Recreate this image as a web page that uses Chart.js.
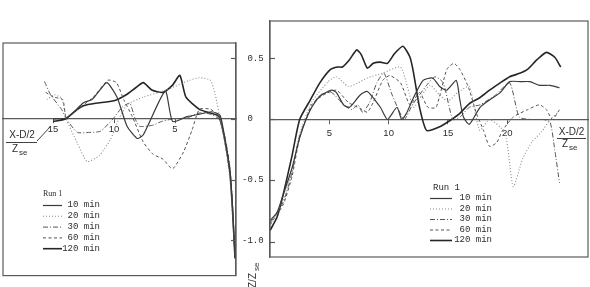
<!DOCTYPE html>
<html><head><meta charset="utf-8">
<script src="https://cdn.jsdelivr.net/npm/chart.js@4.4.1/dist/chart.umd.min.js"></script>
<style>
html,body{margin:0;padding:0;background:#fff;}
#wrap{position:relative;width:590px;height:287px;overflow:hidden;background:#fff;}
canvas{position:absolute;left:0;top:0;}
</style></head><body>
<div id="wrap"><canvas id="cl" width="590" height="287"></canvas><canvas id="cr" width="590" height="287"></canvas></div>
<script>
// ---------- data ----------
const seriesNames = ['10 min', '20 min', '30 min', '60 min', '120 min'];
const legendTitle = 'Run 1';
const yTicks = [0.5, 0, -0.5, -1.0];
const yTickLabels = [' 0.5', ' 0', '-0.5', '-1.0'];
const leftXTicks = [15, 10, 5];
const rightXTicks = [5, 10, 15, 20];

// left panel (x decreasing to the right)
const L10x  = [15.0, 13.85, 12.5, 11.8, 11.15, 10.57, 9.75, 8.93, 8.1, 7.6, 5.8, 5.2, 4.0, 3.0, 2.0, 1.3, 0.9, 0.5, 0.3, 0.08];
const L10y  = [0.0, 0.01, 0.135, 0.16, 0.24, 0.30, 0.18, -0.06, -0.16, -0.13, 0.23, -0.02, 0.02, 0.04, 0.06, 0.03, -0.17, -0.42, -0.70, -1.13];
const L20x  = [15.5, 14.9, 14.3, 13.9, 13.0, 12.2, 11.2, 10.3, 9.6, 8.9, 7.6, 5.7, 3.8, 3.0, 2.1, 1.7, 1.3, 0.9, 0.5, 0.3, 0.1];
const L20y  = [0.16, 0.20, 0.17, 0.0, -0.20, -0.35, -0.30, -0.17, 0.0, 0.12, 0.18, 0.24, 0.32, 0.34, 0.32, 0.20, 0.0, -0.20, -0.50, -0.78, -1.12];
const L30x  = [15.7, 15.2, 14.3, 13.9, 13.0, 12.0, 11.1, 10.1, 9.3, 8.7, 8.3, 7.9, 6.8, 6.1, 5.2, 4.0, 3.0, 2.1, 1.4, 0.9, 0.5, 0.3, 0.1];
const L30y  = [0.31, 0.20, 0.08, 0.0, -0.11, -0.11, -0.10, 0.0, 0.10, 0.13, 0.01, -0.06, -0.05, -0.02, 0.0, 0.01, 0.05, 0.04, 0.0, -0.15, -0.40, -0.68, -1.10];
const L60x  = [15.6, 14.9, 14.2, 13.9, 13.0, 11.7, 10.5, 9.8, 9.2, 8.5, 7.6, 6.8, 6.0, 5.2, 4.3, 3.6, 3.0, 2.1, 1.3, 0.9, 0.5, 0.3, 0.1];
const L60y  = [0.22, 0.18, 0.16, 0.01, 0.08, 0.18, 0.32, 0.30, 0.16, 0.02, -0.19, -0.29, -0.33, -0.41, -0.27, -0.09, 0.08, 0.08, 0.01, -0.20, -0.45, -0.75, -1.12];
const L120x = [15.0, 14.0, 13.0, 12.5, 11.5, 10.0, 9.0, 8.2, 7.6, 6.9, 6.0, 5.2, 4.6, 4.1, 3.0, 2.1, 1.4, 0.9, 0.5, 0.3, 0.08];
const L120y = [-0.02, 0.0, 0.08, 0.11, 0.13, 0.15, 0.20, 0.26, 0.30, 0.24, 0.22, 0.28, 0.36, 0.18, 0.08, 0.05, 0.02, -0.18, -0.44, -0.72, -1.15];

// right panel
const R10x  = [0, 0.6, 1.1, 1.85, 2.5, 3.4, 4.2, 5.2, 5.6, 6.2, 6.7, 7.6, 8.2, 9.3, 9.9, 10.7, 11.1, 11.5, 12.0, 12.9, 13.7, 14.3, 14.9, 15.7, 16.0, 16.3, 16.8, 17.7, 18.5, 19.4, 20.2, 21.1, 21.9, 22.7, 23.6, 24.4];
const R10y  = [-0.83, -0.76, -0.62, -0.40, -0.15, 0.08, 0.19, 0.24, 0.22, 0.12, 0.10, 0.20, 0.23, 0.10, 0.0, 0.10, 0.0, 0.05, 0.16, 0.32, 0.34, 0.27, 0.24, 0.32, 0.16, 0.02, -0.04, 0.10, 0.16, 0.22, 0.31, 0.31, 0.31, 0.28, 0.28, 0.26];
const R20x  = [0, 1.1, 1.85, 2.5, 3.5, 4.9, 5.6, 6.6, 7.4, 8.2, 9.5, 11.0, 11.6, 12.1, 12.8, 13.5, 14.3, 15.0, 15.8, 16.8, 17.3, 17.7, 18.5, 19.8, 20.5, 21.3, 22.1, 22.9, 23.6, 24.3];
const R20y  = [-0.88, -0.66, -0.42, -0.12, 0.14, 0.31, 0.35, 0.27, 0.30, 0.34, 0.38, 0.43, 0.26, 0.10, 0.20, 0.28, 0.20, 0.15, 0.22, 0.27, 0.05, -0.09, 0.0, -0.11, -0.55, -0.32, -0.18, -0.10, 0.0, 0.06];
const R30x  = [0, 1.1, 1.85, 2.5, 3.4, 4.2, 5.2, 6.2, 6.9, 7.4, 7.8, 8.4, 9.0, 9.6, 10.3, 11.3, 12.0, 13.2, 13.9, 14.6, 15.4, 16.0, 16.8, 17.7, 19.0, 20.2, 21.0, 22.0, 23.0, 23.6, 24.0, 24.4];
const R30y  = [-0.85, -0.68, -0.44, -0.13, 0.08, 0.20, 0.22, 0.12, 0.08, 0.12, 0.06, 0.14, 0.30, 0.38, 0.20, 0.0, 0.12, 0.28, 0.35, 0.30, 0.0, 0.02, 0.10, 0.12, 0.20, 0.30, 0.02, 0.0, 0.0, -0.02, -0.25, -0.52];
const R60x  = [0, 1.1, 1.85, 2.5, 3.5, 4.5, 5.6, 6.6, 7.6, 8.2, 8.7, 9.5, 10.1, 11.0, 11.8, 12.6, 13.3, 14.0, 14.9, 15.5, 16.0, 16.7, 17.4, 18.0, 18.5, 19.1, 19.6, 20.5, 21.7, 22.7, 23.3, 23.8, 24.4];
const R60y  = [-0.86, -0.70, -0.47, -0.15, 0.12, 0.20, 0.24, 0.14, 0.09, 0.06, 0.14, 0.32, 0.36, 0.30, 0.12, 0.22, 0.10, 0.10, 0.41, 0.46, 0.41, 0.27, 0.05, -0.09, -0.22, -0.19, -0.09, 0.02, 0.08, 0.12, 0.08, 0.0, 0.08];
const R120x = [0, 0.6, 1.1, 1.85, 2.5, 3.4, 4.2, 5.1, 5.7, 6.1, 6.7, 7.3, 7.7, 8.2, 8.7, 9.3, 9.9, 10.5, 11.2, 11.8, 12.1, 12.6, 13.2, 14.3, 15.3, 16.0, 16.8, 17.7, 18.5, 19.4, 20.2, 21.1, 21.7, 22.5, 23.3, 24.0, 24.5];
const R120y = [-0.91, -0.80, -0.62, -0.30, 0.0, 0.16, 0.30, 0.41, 0.43, 0.43, 0.49, 0.57, 0.53, 0.42, 0.46, 0.47, 0.46, 0.54, 0.60, 0.51, 0.38, 0.10, -0.09, -0.06, 0.0, 0.05, 0.13, 0.18, 0.24, 0.30, 0.35, 0.38, 0.41, 0.49, 0.55, 0.51, 0.43];

// ---------- styles ----------
const lineColors = ['#3a3a3a', '#8a8a8a', '#555555', '#505050', '#262626'];
const lineWidths = [1.2, 1.1, 1.0, 1.0, 1.6];
const lineDashes = [[], [1, 2], [5, 2, 1, 2], [3, 2.5], []];
const axisColor = '#5a5a5a';
const textColor = '#2e2e2e';

function makeSets(xsList, ysList) {
  return xsList.map((xs, i) => ({
    label: seriesNames[i],
    data: xs.map((x, j) => ({x: x, y: ysList[i][j]})),
    borderColor: lineColors[i],
    borderWidth: lineWidths[i],
    borderDash: lineDashes[i],
    pointRadius: 0,
    tension: 0.2,
    fill: false
  }));
}

// frame + inward y ticks + legend + labels
const panelDecor = {
  id: 'panelDecor',
  afterDraw(chart, args, o) {
    const ctx = chart.ctx, ca = chart.chartArea, ys = chart.scales.y;
    ctx.save();
    // frame
    ctx.strokeStyle = axisColor; ctx.lineWidth = 1.2; ctx.setLineDash([]);
    ctx.strokeRect(ca.left, ca.top, ca.right - ca.left, ca.bottom - ca.top);
    // inward ticks
    ys.ticks.forEach(t => {
      const py = Math.round(ys.getPixelForValue(t.value)) + 0.5;
      const x = o.side === 'right' ? ca.right : ca.left;
      const d = o.side === 'right' ? -5 : 5;
      ctx.beginPath(); ctx.moveTo(x, py); ctx.lineTo(x + d, py); ctx.stroke();
    });
    // legend
    const L = o.legend;
    ctx.fillStyle = textColor;
    ctx.font = L.titleFont;
    ctx.textBaseline = 'middle'; ctx.textAlign = 'left';
    ctx.fillText(legendTitle, L.titleX, L.titleY);
    ctx.font = '9px "Liberation Mono", monospace';
    chart.data.datasets.forEach((ds, i) => {
      const y = L.rowY0 + i * L.rowDy;
      ctx.strokeStyle = ds.borderColor; ctx.lineWidth = ds.borderWidth;
      ctx.setLineDash(ds.borderDash || []);
      ctx.beginPath(); ctx.moveTo(L.lineX0, y + 0.5); ctx.lineTo(L.lineX1, y + 0.5); ctx.stroke();
      ctx.setLineDash([]);
      ctx.textAlign = 'right';
      ctx.fillText(ds.label, L.textRight, y);
    });
    // fraction label X-D/2 over Z_se
    const F = o.frac;
    ctx.fillStyle = textColor; ctx.strokeStyle = textColor; ctx.lineWidth = 0.9;
    ctx.textBaseline = 'alphabetic'; ctx.textAlign = 'center';
    ctx.font = '10px "Liberation Sans", sans-serif';
    ctx.fillText('X-D/2', F.cx, F.numY);
    ctx.beginPath(); ctx.moveTo(F.x0, F.barY); ctx.lineTo(F.x1, F.barY); ctx.stroke();
    ctx.textAlign = 'left';
    ctx.fillText('Z', F.zX, F.zY);
    ctx.font = '8px "Liberation Sans", sans-serif';
    ctx.fillText('se', F.zX + 7, F.zY + 3);
    if (F.leader) {
      ctx.beginPath(); ctx.moveTo(F.leader[0], F.leader[1]); ctx.lineTo(F.leader[2], F.leader[3]); ctx.stroke();
    }
    if (o.zLabel) {
      ctx.save();
      ctx.translate(o.zLabel.x, o.zLabel.y);
      ctx.rotate(-Math.PI / 2);
      ctx.textAlign = 'left'; ctx.textBaseline = 'alphabetic';
      ctx.font = '10px "Liberation Sans", sans-serif';
      ctx.fillText('Z/Z', 0, 0);
      ctx.font = '8px "Liberation Sans", sans-serif';
      ctx.fillText('se', 17, 3);
      ctx.restore();
    }
    ctx.restore();
  }
};

function baseOptions(cfg) {
  return {
    responsive: false, animation: false, devicePixelRatio: 1,
    events: [],
    layout: {padding: cfg.padding},
    plugins: {legend: {display: false}, tooltip: {enabled: false}, panelDecor: cfg.decor},
    scales: {
      x: {
        type: 'linear', min: cfg.xMin, max: cfg.xMax, reverse: cfg.reverse,
        position: {y: 0},
        afterBuildTicks: s => { s.ticks = cfg.xTicks.map(v => ({value: v})); },
        grid: {drawOnChartArea: false, drawTicks: true, tickLength: 4, color: axisColor, lineWidth: 1},
        border: {display: true, color: axisColor, width: 1.2},
        ticks: {color: textColor, font: {family: '"Liberation Sans", sans-serif', size: 9.5}, padding: cfg.xPad, maxRotation: 0, autoSkip: false}
      },
      y: {
        type: 'linear', min: cfg.yMin, max: cfg.yMax, position: cfg.ySide,
        afterBuildTicks: s => { s.ticks = yTicks.map(v => ({value: v})); },
        afterFit: s => { s.width = cfg.yWidth; },
        grid: {drawOnChartArea: false, drawTicks: false},
        border: {display: true, color: axisColor, width: 1.2},
        ticks: {
          display: cfg.yLabels, color: textColor, padding: 6, crossAlign: 'near',
          font: {family: '"Liberation Mono", monospace', size: 9},
          callback: v => yTickLabels[yTicks.indexOf(v)]
        }
      }
    }
  };
}

new Chart(document.getElementById('cl'), {
  type: 'line',
  data: {datasets: makeSets([L10x, L20x, L30x, L60x, L120x], [L10y, L20y, L30y, L60y, L120y])},
  options: baseOptions({
    padding: {left: 3, top: 43, right: 320, bottom: 10},
    xMin: 0, xMax: 19.1, reverse: true, xTicks: leftXTicks, xPad: 1,
    yMin: -1.291, yMax: 0.627, ySide: 'right', yWidth: 34, yLabels: true,
    decor: {
      side: 'right',
      legend: {titleFont: '8px "Liberation Serif", serif', titleX: 43, titleY: 194, rowY0: 205, rowDy: 10.8, lineX0: 43, lineX1: 62, textRight: 100},
      frac: {cx: 22, numY: 138, x0: 6, x1: 37, barY: 142.5, zX: 12, zY: 152, leader: [37, 141, 50, 127]},
      zLabel: {x: 256, y: 288}
    }
  }),
  plugins: [panelDecor]
});

new Chart(document.getElementById('cr'), {
  type: 'line',
  data: {datasets: makeSets([R10x, R20x, R30x, R60x, R120x], [R10y, R20y, R30y, R60y, R120y])},
  options: baseOptions({
    padding: {left: 270, top: 21, right: 2, bottom: 30},
    xMin: 0, xMax: 26.8, reverse: false, xTicks: rightXTicks, xPad: 4,
    yMin: -1.127, yMax: 0.807, ySide: 'left', yWidth: 0, yLabels: false,
    decor: {
      side: 'left',
      legend: {titleFont: '9px "Liberation Mono", monospace', titleX: 433, titleY: 188, rowY0: 198, rowDy: 10.5, lineX0: 430, lineX1: 452, textRight: 492},
      frac: {cx: 571.5, numY: 135, x0: 557, x1: 586, barY: 138.5, zX: 562, zY: 147, leader: null},
      zLabel: null
    }
  }),
  plugins: [panelDecor]
});
</script>
</body></html>
